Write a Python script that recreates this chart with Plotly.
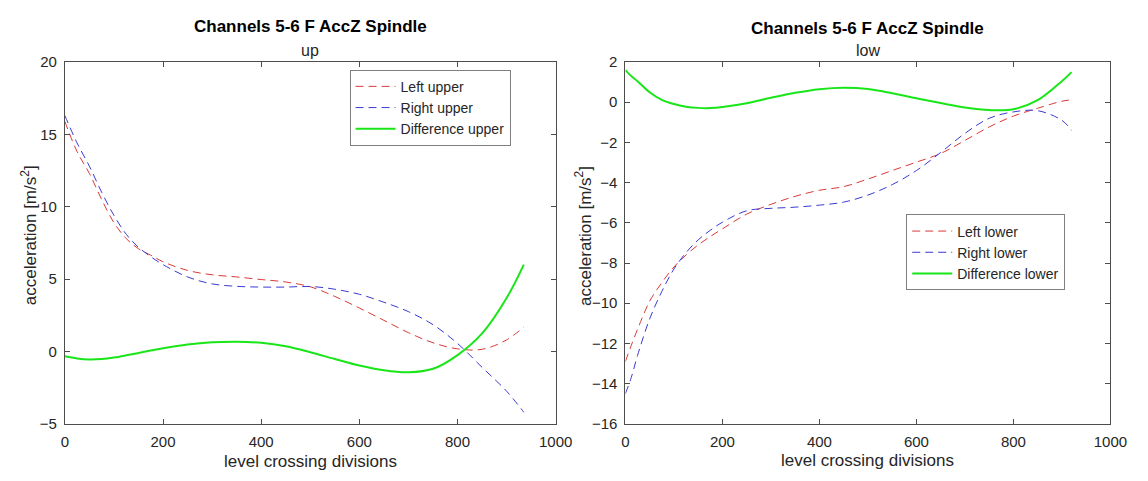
import plotly.graph_objects as go

# ---- Left panel ("up") ----
up_x = [0, 25, 50, 75, 100, 125, 150, 175, 200, 250, 300, 350, 400, 450, 500,
        550, 600, 650, 700, 750, 800, 850, 900, 935]
left_upper = [15.9, 13.8, 12.3, 10.5, 8.9, 7.8, 7.1, 6.65, 6.2, 5.6, 5.3, 5.15, 4.97,
              4.8, 4.47, 3.8, 3.0, 2.15, 1.3, 0.6, 0.18, 0.15, 0.8, 1.7]
right_upper = [16.3, 14.4, 12.8, 11.0, 9.4, 8.1, 7.2, 6.55, 6.0, 5.15, 4.67, 4.5, 4.45,
               4.45, 4.49, 4.3, 3.95, 3.4, 2.75, 1.85, 0.55, -1.1, -2.75, -4.2]
diff_upper = [-0.33, -0.48, -0.55, -0.52, -0.42, -0.27, -0.1, 0.06, 0.22, 0.48, 0.63,
              0.67, 0.6, 0.36, -0.05, -0.52, -0.97, -1.3, -1.44, -1.2, -0.25, 1.25, 3.7, 6.0]

# ---- Right panel ("low") ----
low_x = [0, 12, 25, 50, 75, 100, 125, 150, 175, 200, 250, 300, 350, 400, 450, 500,
         550, 600, 650, 700, 750, 800, 850, 900, 920]
left_lower = [-12.9, -12.1, -11.3, -9.9, -8.98, -8.2, -7.6, -7.1, -6.68, -6.3, -5.57,
              -5.08, -4.68, -4.38, -4.2, -3.82, -3.4, -2.98, -2.55, -1.9, -1.23, -0.69,
              -0.3, 0.05, 0.12]
right_lower = [-14.5, -13.7, -12.6, -10.78, -9.42, -8.3, -7.48, -6.85, -6.37, -5.97,
               -5.4, -5.28, -5.22, -5.12, -4.97, -4.62, -4.1, -3.4, -2.5, -1.55, -0.8,
               -0.48, -0.42, -0.9, -1.4]
diff_lower = [1.6, 1.3, 1.05, 0.5, 0.12, -0.09, -0.22, -0.28, -0.29, -0.24, -0.05, 0.22,
              0.47, 0.65, 0.72, 0.66, 0.45, 0.2, -0.04, -0.26, -0.39, -0.35, 0.1, 1.05, 1.5]

x_ticks = [0, 200, 400, 600, 800, 1000]
up_yticks = [-5, 0, 5, 10, 15, 20]
low_yticks = [-16, -14, -12, -10, -8, -6, -4, -2, 0, 2]

RED = "#d83a3a"
BLUE = "#3a3ad0"
GREEN = "#19e619"
FONT = "Liberation Sans, Arial, Helvetica, sans-serif"
AX = "#4d4d4d"
TXT = "#262626"
DASH = "8px,5px"

fig = go.Figure()

def add(x, y, name, color, dash, width, xa, ya, legend):
    fig.add_trace(go.Scatter(x=x, y=y, name=name, mode="lines", xaxis=xa, yaxis=ya,
                             line=dict(color=color, dash=dash, width=width, shape="spline"),
                             legend=legend, hoverinfo="skip"))

add(up_x, left_upper, "Left upper", RED, DASH, 1, "x", "y", "legend")
add(up_x, right_upper, "Right upper", BLUE, DASH, 1, "x", "y", "legend")
add(up_x, diff_upper, "Difference upper", GREEN, "solid", 2, "x", "y", "legend")
add(low_x, left_lower, "Left lower", RED, DASH, 1, "x2", "y2", "legend2")
add(low_x, right_lower, "Right lower", BLUE, DASH, 1, "x2", "y2", "legend2")
add(low_x, diff_lower, "Difference lower", GREEN, "solid", 2, "x2", "y2", "legend2")

W, H = 1148, 481
ydom = [(H - 430) / H, (H - 55) / H]

axis_common = dict(showgrid=False, zeroline=False, showline=True, linecolor=AX, linewidth=1,
                   mirror="ticks", ticks="inside", ticklen=5, tickcolor=AX,
                   tickfont=dict(family=FONT, size=15, color=TXT))

fig.update_layout(
    width=W, height=H, margin=dict(l=0, r=0, t=0, b=0),
    paper_bgcolor="white", plot_bgcolor="white",
    font=dict(family=FONT, color=TXT),
    xaxis=dict(domain=[62 / W, 562 / W], range=[0, 1000], tickvals=x_ticks,
               ticklabelstandoff=4, anchor="y", **axis_common),
    yaxis=dict(domain=ydom, range=[-5, 20], tickvals=up_yticks,
               ticklabelstandoff=4, anchor="x", **axis_common),
    xaxis2=dict(domain=[633 / W, 1127 / W], range=[0, 1000], tickvals=x_ticks,
                ticklabelstandoff=4, anchor="y2", **axis_common),
    yaxis2=dict(domain=ydom, range=[-16, 2], tickvals=low_yticks,
                ticklabelstandoff=4, anchor="x2", **axis_common),
    legend=dict(x=516 / W, y=(H - 63) / H, xanchor="right", yanchor="top",
                bgcolor="white", bordercolor="#7f7f7f", borderwidth=1,
                font=dict(family=FONT, size=14, color=TXT),
                tracegroupgap=0, itemwidth=40),
    legend2=dict(x=1081 / W, y=(H - 213) / H, xanchor="right", yanchor="top",
                 bgcolor="white", bordercolor="#7f7f7f", borderwidth=1,
                 font=dict(family=FONT, size=14, color=TXT),
                 tracegroupgap=0, itemwidth=40),
    showlegend=True,
    hovermode=False,
)

texts = [
    ("<b>Channels 5-6 F AccZ Spindle</b>", 312, 18, 0, 17, "#000000"),
    ("up", 312, 43, 0, 16, TXT),
    ("<b>Channels 5-6 F AccZ Spindle</b>", 880, 20, 0, 17, "#000000"),
    ("low", 880, 43, 0, 16, TXT),
    ("level crossing divisions", 312, 469, 0, 17, TXT),
    ("level crossing divisions", 880, 468, 0, 17, TXT),
    ("acceleration [m/s<sup>2</sup>]", 25, 235, -90, 17, TXT),
    ("acceleration [m/s<sup>2</sup>]", 590, 235, -90, 17, TXT),
]
for text, px, py, ang, size, col in texts:
    fig.add_annotation(text=text, xref="paper", yref="paper",
                       x=px / W, y=(H - py) / H, xanchor="center", yanchor="middle",
                       textangle=ang, showarrow=False,
                       font=dict(family=FONT, size=size, color=col))

fig.write_html("out.html", config={"displayModeBar": False},
               post_script="document.body.style.margin='0';")
